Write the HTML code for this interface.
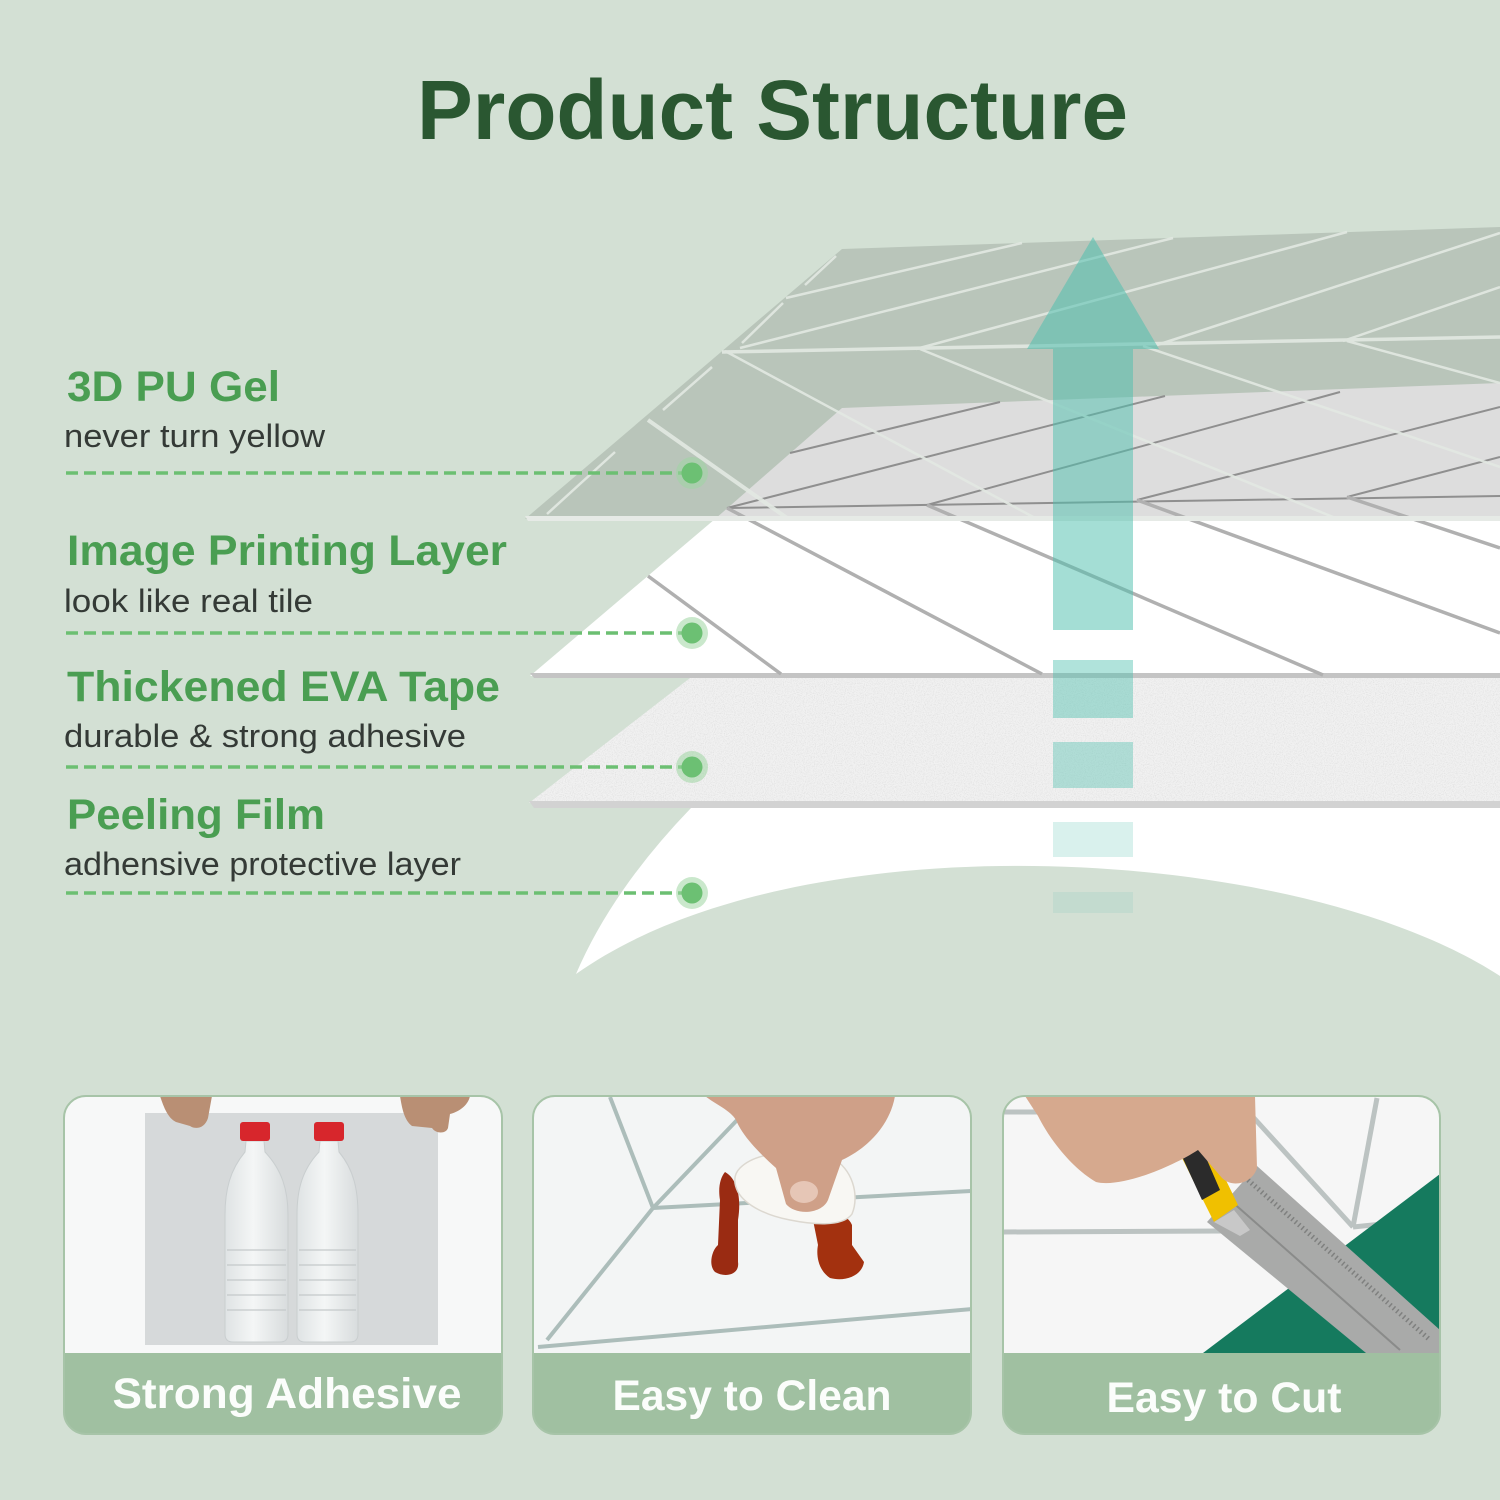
<!DOCTYPE html>
<html><head><meta charset="utf-8">
<style>
html,body{margin:0;padding:0;background:#d3e0d4;}
svg{display:block;}
text{font-family:"Liberation Sans",sans-serif;}
</style></head>
<body>
<svg width="1500" height="1500" viewBox="0 0 1500 1500" xmlns="http://www.w3.org/2000/svg">
<defs>
  <filter id="noise" x="0" y="0" width="100%" height="100%">
    <feTurbulence type="fractalNoise" baseFrequency="0.9" numOctaves="2" seed="4" result="t"/>
    <feColorMatrix in="t" type="matrix" values="0 0 0 0 0.6  0 0 0 0 0.6  0 0 0 0 0.6  0 0 0 -2.2 1.25" result="n"/>
    <feComposite in="n" in2="SourceGraphic" operator="in"/>
  </filter>
  <clipPath id="c1"><rect x="64" y="1096" width="438" height="338" rx="22"/></clipPath>
  <clipPath id="c2"><rect x="533" y="1096" width="438" height="338" rx="22"/></clipPath>
  <clipPath id="c3"><rect x="1003" y="1096" width="437" height="338" rx="22"/></clipPath>
  <linearGradient id="btl" x1="0" x2="1" y1="0" y2="0">
    <stop offset="0" stop-color="#dfe3e4"/>
    <stop offset="0.45" stop-color="#f4f6f6"/>
    <stop offset="1" stop-color="#d8dcdd"/>
  </linearGradient>
</defs>

<rect width="1500" height="1500" fill="#d3e0d4"/>

<!-- Title -->
<text x="417" y="139" font-size="84" font-weight="bold" fill="#2a5731" textLength="711" lengthAdjust="spacingAndGlyphs">Product Structure</text>

<!-- Peeling film -->
<path d="M691,808 L1500,808 L1500,976 C1300,845 800,815 576,974 Q612,890 691,808 Z" fill="#ffffff"/>

<!-- EVA tape -->
<polygon points="690,678 1500,678 1500,803 529,803" fill="#f1f1f1"/>
<polygon points="690,678 1500,678 1500,803 529,803" fill="#000" filter="url(#noise)" opacity="0.5"/>
<polygon points="529,801 1500,801 1500,808 534,808" fill="#d2d2d2"/>

<!-- Image printing layer (below gel) -->
<polygon points="715,519 1500,519 1500,676 530,676" fill="#ffffff"/>
<polygon points="530,673 1500,673 1500,678 534,678" fill="#c4c4c4"/>

<!-- Gel layer -->
<polygon points="842,249 1500,227 1500,519 525,519" fill="#b9c5ba"/>
<polygon points="842,408 1500,383 1500,519 715,519" fill="#dddddd"/>

<g stroke="#8f8f8f" stroke-width="2" fill="none">
  <line x1="727" y1="508" x2="1500" y2="496"/>
  <line x1="727" y1="508" x2="1165" y2="396"/>
  <line x1="790" y1="453" x2="1000" y2="402"/>
  <line x1="927" y1="505" x2="1340" y2="392"/>
  <line x1="1137" y1="500" x2="1500" y2="407"/>
  <line x1="1347" y1="497" x2="1500" y2="457"/>
</g>
<g stroke="#b0b0b0" stroke-width="3.5" fill="none">
  <line x1="727" y1="508" x2="1042" y2="674"/>
  <line x1="927" y1="505" x2="1323" y2="675"/>
  <line x1="1137" y1="500" x2="1500" y2="633"/>
  <line x1="1347" y1="497" x2="1500" y2="548"/>
  <line x1="648" y1="576" x2="781" y2="674"/>
</g>

<g stroke="#e3e9e3" stroke-width="2.5" fill="none" opacity="0.9">
  <line x1="547" y1="514" x2="615" y2="452"/>
  <line x1="663" y1="410" x2="712" y2="367"/>
  <line x1="742" y1="343" x2="783" y2="303"/>
  <line x1="805" y1="285" x2="836" y2="256"/>
  <line x1="722" y1="352" x2="1500" y2="337" stroke-width="3.5"/>
  <line x1="786" y1="298" x2="1022" y2="243"/>
  <line x1="740" y1="348" x2="1173" y2="238"/>
  <line x1="916" y1="349" x2="1347" y2="232"/>
  <line x1="1157" y1="345" x2="1500" y2="233"/>
  <line x1="1343" y1="341" x2="1500" y2="287"/>
  <line x1="648" y1="420" x2="787" y2="518" stroke-width="4"/>
  <line x1="725" y1="351" x2="1035" y2="518"/>
  <line x1="920" y1="349" x2="1333" y2="517"/>
  <line x1="1143" y1="346" x2="1500" y2="467"/>
  <line x1="1347" y1="341" x2="1500" y2="383"/>
</g>
<polygon points="525,516 1500,516 1500,521 528,521" fill="#e6eae6"/>

<!-- Arrow -->
<g fill="rgb(80,192,175)">
  <polygon points="1093,237 1159,349 1027,349" opacity="0.55"/>
  <rect x="1053" y="349" width="80" height="281" opacity="0.52"/>
  <rect x="1053" y="660" width="80" height="58" opacity="0.45"/>
  <rect x="1053" y="742" width="80" height="46" opacity="0.4"/>
  <rect x="1053" y="822" width="80" height="35" opacity="0.22"/>
  <rect x="1053" y="892" width="80" height="21" opacity="0.12"/>
</g>

<!-- Labels -->
<g font-weight="bold" fill="#4a9e52" font-size="43">
  <text x="67" y="401" textLength="213" lengthAdjust="spacingAndGlyphs">3D PU Gel</text>
  <text x="67" y="565" textLength="440" lengthAdjust="spacingAndGlyphs">Image Printing Layer</text>
  <text x="67" y="701" textLength="433" lengthAdjust="spacingAndGlyphs">Thickened EVA Tape</text>
  <text x="67" y="829" textLength="258" lengthAdjust="spacingAndGlyphs">Peeling Film</text>
</g>
<g fill="#343a36" font-size="32">
  <text x="64" y="447" textLength="261" lengthAdjust="spacingAndGlyphs">never turn yellow</text>
  <text x="64" y="612" textLength="249" lengthAdjust="spacingAndGlyphs">look like real tile</text>
  <text x="64" y="747" textLength="402" lengthAdjust="spacingAndGlyphs">durable &amp; strong adhesive</text>
  <text x="64" y="875" textLength="397" lengthAdjust="spacingAndGlyphs">adhensive protective layer</text>
</g>

<g stroke="#6cbf72" stroke-width="3.5" stroke-dasharray="12 6" fill="none">
  <line x1="66" y1="473" x2="684" y2="473"/>
  <line x1="66" y1="633" x2="684" y2="633"/>
  <line x1="66" y1="767" x2="684" y2="767"/>
  <line x1="66" y1="893" x2="684" y2="893"/>
</g>
<g>
  <circle cx="692" cy="473" r="16" fill="#9fd6a3" opacity="0.55"/>
  <circle cx="692" cy="473" r="10.5" fill="#6cc073"/>
  <circle cx="692" cy="633" r="16" fill="#9fd6a3" opacity="0.55"/>
  <circle cx="692" cy="633" r="10.5" fill="#6cc073"/>
  <circle cx="692" cy="767" r="16" fill="#9fd6a3" opacity="0.55"/>
  <circle cx="692" cy="767" r="10.5" fill="#6cc073"/>
  <circle cx="692" cy="893" r="16" fill="#9fd6a3" opacity="0.55"/>
  <circle cx="692" cy="893" r="10.5" fill="#6cc073"/>
</g>

<!-- Card 1 -->
<g clip-path="url(#c1)">
  <rect x="64" y="1096" width="438" height="338" fill="#f7f8f8"/>
  <rect x="145" y="1113" width="293" height="232" fill="#d6d9da"/>
  <path d="M160,1096 L212,1096 L208,1118 C205,1128 196,1130 190,1126 L176,1122 C168,1118 164,1108 160,1096 Z" fill="#b98f74"/>
  <path d="M400,1096 L470,1096 C468,1106 458,1112 450,1114 L448,1128 C446,1134 436,1134 432,1128 L412,1126 C404,1120 402,1108 400,1096 Z" fill="#b98f74"/>
  <path d="M246,1141 L264,1141 L265,1152 C282,1170 288,1190 288,1215 L288,1334 Q288,1342 280,1342 L233,1342 Q225,1342 225,1334 L225,1215 C225,1190 230,1170 245,1152 Z" fill="url(#btl)" stroke="#c9cecf" stroke-width="1"/>
  <rect x="240" y="1122" width="30" height="19" rx="3" fill="#d7262c"/>
  <path d="M320,1141 L338,1141 L339,1152 C354,1170 358,1190 358,1215 L358,1334 Q358,1342 350,1342 L305,1342 Q297,1342 297,1334 L297,1215 C297,1190 302,1170 319,1152 Z" fill="url(#btl)" stroke="#c9cecf" stroke-width="1"/>
  <rect x="314" y="1122" width="30" height="19" rx="3" fill="#d7262c"/>
  <g stroke="#c3c8c9" stroke-width="1.5" opacity="0.8">
    <line x1="227" y1="1250" x2="286" y2="1250"/><line x1="227" y1="1265" x2="286" y2="1265"/>
    <line x1="227" y1="1280" x2="286" y2="1280"/><line x1="227" y1="1295" x2="286" y2="1295"/>
    <line x1="227" y1="1310" x2="286" y2="1310"/>
    <line x1="299" y1="1250" x2="356" y2="1250"/><line x1="299" y1="1265" x2="356" y2="1265"/>
    <line x1="299" y1="1280" x2="356" y2="1280"/><line x1="299" y1="1295" x2="356" y2="1295"/>
    <line x1="299" y1="1310" x2="356" y2="1310"/>
  </g>
  <rect x="64" y="1353" width="438" height="81" fill="#a0c0a1"/>
</g>
<rect x="64" y="1096" width="438" height="338" rx="22" fill="none" stroke="#a7c4a8" stroke-width="2"/>
<text x="287" y="1408" text-anchor="middle" font-size="43" font-weight="bold" fill="#fbfdfb" textLength="349" lengthAdjust="spacingAndGlyphs">Strong Adhesive</text>

<!-- Card 2 -->
<g clip-path="url(#c2)">
  <rect x="533" y="1096" width="438" height="338" fill="#f3f5f5"/>
  <g stroke="#acbdba" stroke-width="4" fill="none">
    <line x1="610" y1="1097" x2="653" y2="1208"/>
    <line x1="653" y1="1208" x2="547" y2="1340"/>
    <line x1="653" y1="1208" x2="972" y2="1191"/>
    <line x1="740" y1="1117" x2="653" y2="1208"/>
    <line x1="538" y1="1347" x2="972" y2="1309"/>
  </g>
  <path d="M725,1172 C736,1178 742,1195 738,1220 L738,1262 C740,1275 725,1278 715,1272 C708,1265 712,1250 718,1245 L720,1200 C718,1188 720,1178 725,1172 Z" fill="#9a2b12"/>
  <path d="M812,1215 C830,1210 848,1214 852,1225 L852,1245 L864,1262 C862,1276 845,1282 830,1278 C818,1270 816,1255 818,1245 Z" fill="#a3310f"/>
  <path d="M740,1168 C758,1150 800,1150 832,1158 C852,1168 860,1195 852,1214 C842,1228 810,1224 790,1220 C768,1216 746,1206 738,1192 C733,1182 734,1174 740,1168 Z" fill="#f8f7f3" stroke="#dcd8d0" stroke-width="1.5"/>
  <path d="M705,1096 L895,1096 C890,1125 868,1148 842,1160 L828,1200 C822,1214 796,1216 786,1204 L776,1168 C758,1152 742,1135 736,1120 C730,1110 715,1104 705,1096 Z" fill="#cfa088"/>
  <ellipse cx="804" cy="1192" rx="14" ry="11" fill="#e6c6b6"/>
  <rect x="533" y="1353" width="438" height="81" fill="#a0c0a1"/>
</g>
<rect x="533" y="1096" width="438" height="338" rx="22" fill="none" stroke="#a7c4a8" stroke-width="2"/>
<text x="752" y="1410" text-anchor="middle" font-size="43" font-weight="bold" fill="#fbfdfb" textLength="279" lengthAdjust="spacingAndGlyphs">Easy to Clean</text>

<!-- Card 3 -->
<g clip-path="url(#c3)">
  <rect x="1003" y="1096" width="437" height="338" fill="#f6f6f6"/>
  <g stroke="#bcc3c2" stroke-width="5" fill="none">
    <line x1="1003" y1="1232" x2="1225" y2="1231"/>
    <line x1="1003" y1="1112" x2="1045" y2="1112"/>
    <line x1="1253" y1="1117" x2="1353" y2="1227"/>
    <line x1="1377" y1="1098" x2="1353" y2="1227"/>
    <line x1="1353" y1="1227" x2="1440" y2="1218"/>
  </g>
  <polygon points="1203,1353 1440,1174 1440,1353" fill="#157a5e"/>
  <polygon points="1207,1222 1257,1166 1440,1330 1440,1353 1366,1353" fill="#a9aaa9"/>
  <line x1="1248" y1="1180" x2="1430" y2="1340" stroke="#7f807f" stroke-width="5" stroke-dasharray="1.5 3"/>
  <line x1="1230" y1="1200" x2="1400" y2="1350" stroke="#8a8b8a" stroke-width="2"/>
  <polygon points="1162,1118 1190,1106 1238,1205 1214,1222" fill="#f0c000"/>
  <polygon points="1168,1126 1188,1116 1220,1190 1202,1200" fill="#2b2b2b"/>
  <polygon points="1214,1222 1234,1210 1250,1230 1240,1236" fill="#c8c8c8"/>
  <path d="M1025,1096 L1255,1096 L1257,1168 C1252,1184 1232,1188 1222,1178 L1198,1150 C1170,1168 1120,1188 1096,1182 C1072,1168 1050,1140 1038,1116 Z" fill="#d6a98e"/>
  <rect x="1003" y="1353" width="437" height="81" fill="#a0c0a1"/>
</g>
<rect x="1003" y="1096" width="437" height="338" rx="22" fill="none" stroke="#a7c4a8" stroke-width="2"/>
<text x="1224" y="1412" text-anchor="middle" font-size="43" font-weight="bold" fill="#fbfdfb" textLength="235" lengthAdjust="spacingAndGlyphs">Easy to Cut</text>
</svg>
</body></html>
